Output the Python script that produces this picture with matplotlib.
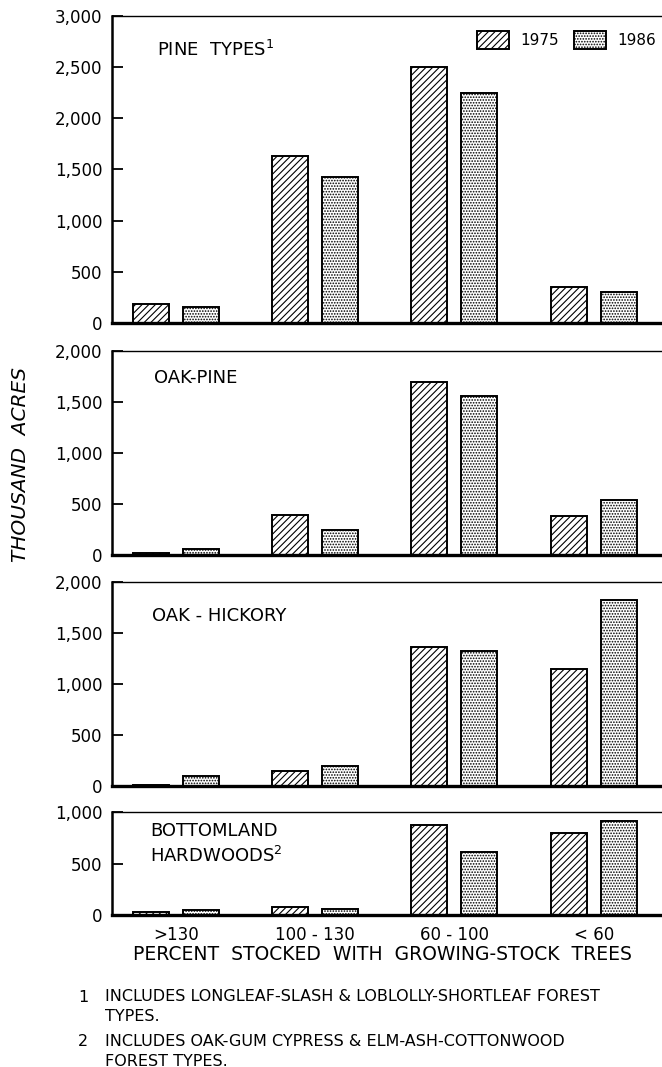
import matplotlib
matplotlib.use("Agg")
import matplotlib.pyplot as plt
import numpy as np
from matplotlib.ticker import FuncFormatter

plt.rcParams['font.family'] = ['DejaVu Sans']
plt.rcParams['hatch.linewidth'] = 0.8

# -----------------------------
# data (thousand acres)
# -----------------------------
categories = ['>130', '100 - 130', '60 - 100', '< 60']
years = ['1975', '1986']

pine_1975 = [190, 1630, 2500, 350]
pine_1986 = [160, 1430, 2250, 305]
oakpine_1975 = [20, 390, 1700, 385]
oakpine_1986 = [60, 250, 1560, 540]
oakhick_1975 = [10, 140, 1360, 1150]
oakhick_1986 = [95, 190, 1320, 1830]
bottom_1975 = [30, 80, 880, 795]
bottom_1986 = [50, 55, 615, 912]

panel_titles = ['PINE  TYPES$^{\\mathregular{1}}$', 'OAK-PINE', 'OAK - HICKORY',
                'BOTTOMLAND\nHARDWOODS$^{\\mathregular{2}}$']
panel_tops = [3000, 2000, 2000, 1000]

footnotes = [
    ('1', 'INCLUDES LONGLEAF-SLASH & LOBLOLLY-SHORTLEAF FOREST\nTYPES.'),
    ('2', 'INCLUDES OAK-GUM CYPRESS & ELM-ASH-COTTONWOOD\nFOREST TYPES.'),
]

series = [
    (pine_1975, pine_1986),
    (oakpine_1975, oakpine_1986),
    (oakhick_1975, oakhick_1986),
    (bottom_1975, bottom_1986),
]

# -----------------------------
# layout (pixel based, 662 x 1067)
# -----------------------------
W, H = 662, 1067
fig = plt.figure(figsize=(W / 100, H / 100), dpi=100)

# (top, bottom) in pixels for each panel
panel_px = [(15.7, 323), (351, 555), (582.3, 785.7), (812.3, 915)]
left_px = 112

x = np.arange(len(categories))
bw = 0.258
off = 0.18

for i, ((top, bot), (v75, v86)) in enumerate(zip(panel_px, series)):
    ax = fig.add_axes([left_px / W, 1 - bot / H, 1 - left_px / W, (bot - top) / H])

    b1 = ax.bar(x - off, v75, bw, color='white', edgecolor='black',
                linewidth=1.4, hatch='/////', label=years[0], zorder=2)
    b2 = ax.bar(x + off, v86, bw, color='white', edgecolor='black',
                linewidth=1.4, hatch='......', label=years[1], zorder=2)

    ax.set_xlim(-0.457, 3.49)
    ax.set_ylim(0, panel_tops[i])
    ax.set_yticks(np.arange(0, panel_tops[i] + 1, 500))
    ax.yaxis.set_major_formatter(FuncFormatter(lambda v, p: f"{int(v):,}"))
    ax.tick_params(axis='y', direction='in', length=8, width=1.3,
                   labelsize=12, pad=7)
    ax.tick_params(axis='x', length=0)

    ax.spines['right'].set_visible(False)
    ax.spines['left'].set_linewidth(1.8)
    ax.spines['top'].set_linewidth(1.0)
    ax.spines['bottom'].set_linewidth(2.4)
    ax.spines['bottom'].set_zorder(3)

    ax.set_xticks(x)
    if i < 3:
        ax.set_xticklabels([])
    else:
        ax.set_xticklabels(categories, fontsize=12)
        ax.tick_params(axis='x', pad=8)

    if i == 0:
        ax.legend(handles=[b1, b2], loc='upper left',
                  bbox_to_anchor=(477 / W, 1 - 31 / H),
                  bbox_transform=fig.transFigure, ncol=2, frameon=False,
                  fontsize=11, handlelength=2.1, handleheight=1.45,
                  handletextpad=0.75, columnspacing=0.95,
                  borderpad=0, borderaxespad=0)

# panel titles
title_pos = [(157, 50), (154, 378), (152, 616), (150, 844)]
for (tx, ty), t in zip(title_pos, panel_titles):
    fig.text(tx / W, 1 - ty / H, t, fontsize=13, ha='left', va='center',
             linespacing=1.4)

# axis labels
fig.text(21 / W, 1 - 465 / H, 'THOUSAND  ACRES', rotation=90, style='italic',
         fontsize=14.5, ha='center', va='center')
fig.text(382 / W, 1 - 955 / H, 'PERCENT  STOCKED  WITH  GROWING-STOCK  TREES',
         fontsize=13.5, ha='center', va='center')

# footnotes
note_y = [997, 1042]
for (num, txt), ny in zip(footnotes, note_y):
    fig.text(88 / W, 1 - ny / H, num, fontsize=11.5, ha='right', va='center')
    fig.text(105 / W, 1 - (ny - 8) / H, txt, fontsize=11.5, ha='left',
             va='top', linespacing=1.4)

fig.savefig('out.png', dpi=100)
